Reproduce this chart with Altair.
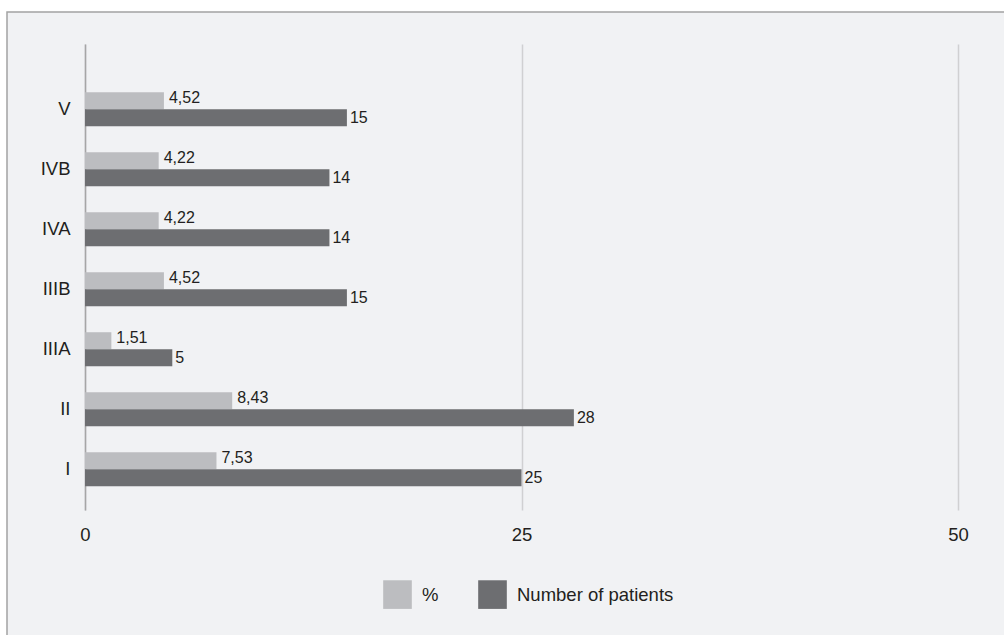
import altair as alt
import pandas as pd

# Stage categories (top to bottom) and the two series per stage
stages = ["V", "IVB", "IVA", "IIIB", "IIIA", "II", "I"]
percent = [4.52, 4.22, 4.22, 4.52, 1.51, 8.43, 7.53]
patients = [15, 14, 14, 15, 5, 28, 25]
series_names = ["%", "Number of patients"]
x_ticks = [0, 25, 50]

rows = []
for s, p, n in zip(stages, percent, patients):
    rows.append({"stage": s, "series": "%", "value": p,
                 "label": f"{p:.2f}".replace(".", ",")})
    rows.append({"stage": s, "series": "Number of patients", "value": n,
                 "label": str(n)})
df = pd.DataFrame(rows)

FONT = "Liberation Sans"
LIGHT = "#bcbdc0"
DARK = "#6d6e71"
TEXT = "#231f20"

PLOT_W, PLOT_H = 873, 466
PAD_L, PAD_T = 85, 44

y_enc = alt.Y(
    "stage:N", sort=stages, title=None,
    scale=alt.Scale(paddingInner=0.433, paddingOuter=0.6, align=0.67),
    axis=alt.Axis(ticks=False, labelFontSize=18.5, labelColor=TEXT,
                  labelPadding=15, domainColor="#a6a6a6", domainWidth=1.5,
                  labelFont=FONT),
)
y_off = alt.YOffset("series:N", sort=series_names,
                    scale=alt.Scale(paddingInner=0, paddingOuter=0))
x_enc = alt.X(
    "value:Q", title=None,
    scale=alt.Scale(domain=[0, 50], nice=False),
    axis=alt.Axis(values=x_ticks, ticks=False, domain=False, grid=True,
                  gridColor="#d0d0d2", gridWidth=1.5, labelFontSize=18.5,
                  labelColor=TEXT, labelPadding=15, labelFont=FONT,
                  labelFlush=False, labelOverlap=False),
)
color_enc = alt.Color(
    "series:N", sort=series_names, title=None,
    scale=alt.Scale(domain=series_names, range=[LIGHT, DARK]),
    legend=alt.Legend(orient="none", legendX=298, legendY=536,
                      direction="horizontal", symbolType="square",
                      symbolSize=820, symbolStrokeWidth=0, symbolOpacity=1,
                      labelFontSize=18.5, labelColor=TEXT, labelFont=FONT,
                      labelOffset=10, columnPadding=39, padding=0),
)

one = pd.DataFrame({"a": [0]})

# White strips outside the framed panel, then the frame outline
strip_top = alt.Chart(one).mark_rect(color="white", clip=False).encode(
    x=alt.value(-PAD_L), x2=alt.value(1004 - PAD_L),
    y=alt.value(-PAD_T), y2=alt.value(-32))
strip_left = alt.Chart(one).mark_rect(color="white", clip=False).encode(
    x=alt.value(-PAD_L), x2=alt.value(-78),
    y=alt.value(-PAD_T), y2=alt.value(635 - PAD_T))
frame = alt.Chart(one).mark_rect(fill=None, stroke="#a3a3a3",
                                 strokeWidth=1.5, clip=False).encode(
    x=alt.value(-78), x2=alt.value(1004 - PAD_L + 10),
    y=alt.value(-32), y2=alt.value(635 - PAD_T + 10))

bars = alt.Chart(df).mark_bar().encode(
    x=x_enc, y=y_enc, yOffset=y_off, color=color_enc)

labels_pct = alt.Chart(df[df.series == "%"]).mark_text(
    align="left", baseline="middle", dx=5, dy=-3, fontSize=16,
    font=FONT, color=TEXT).encode(
    x="value:Q", y=alt.Y("stage:N", sort=stages), yOffset=y_off,
    text="label:N")
labels_n = alt.Chart(df[df.series != "%"]).mark_text(
    align="left", baseline="middle", dx=3, fontSize=16,
    font=FONT, color=TEXT).encode(
    x="value:Q", y=alt.Y("stage:N", sort=stages), yOffset=y_off,
    text="label:N")

chart = alt.layer(strip_top, strip_left, frame, bars, labels_pct, labels_n).properties(
    width=PLOT_W, height=PLOT_H,
    autosize=alt.AutoSizeParams(type="none"),
    padding={"left": PAD_L, "top": PAD_T,
             "right": 1004 - PAD_L - PLOT_W, "bottom": 635 - PAD_T - PLOT_H},
    background="#f1f2f4",
).configure_view(stroke=None)

chart.save("out.html", embed_options={"renderer": "svg", "actions": False})
